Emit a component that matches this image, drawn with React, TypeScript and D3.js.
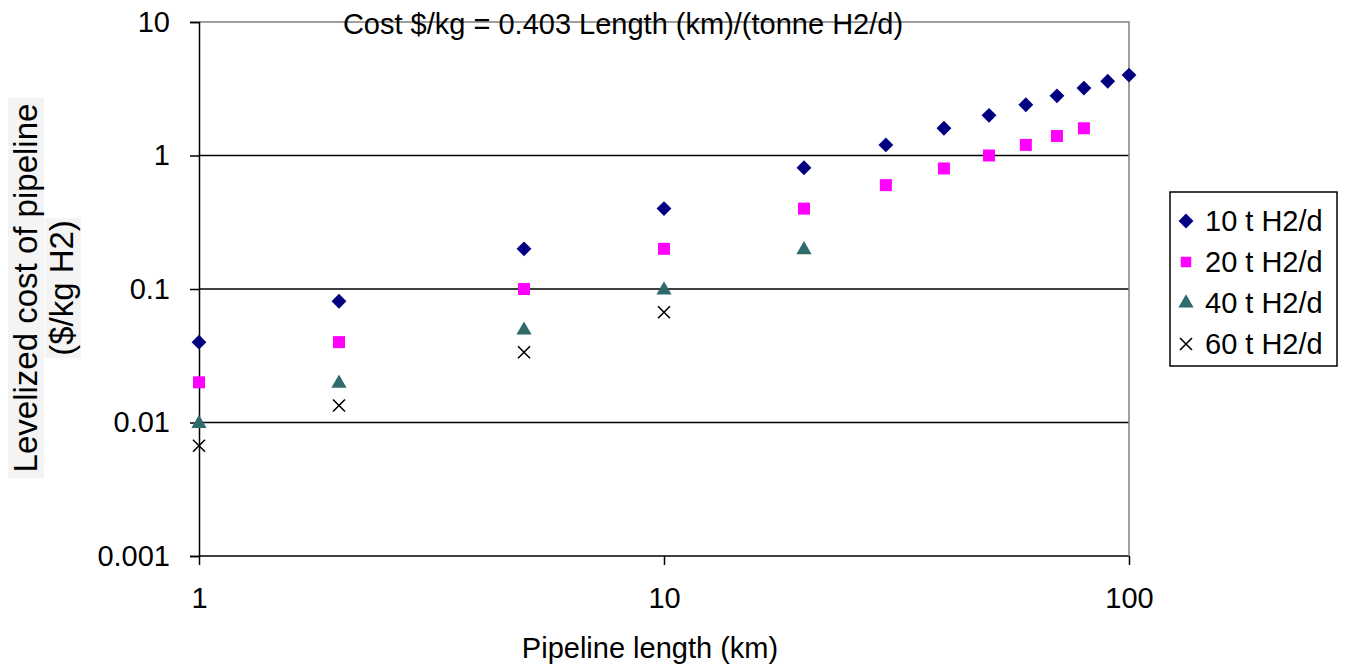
import React, { useEffect, useRef } from 'react';
import * as d3 from 'd3';

const lengths10 = [1, 2, 5, 10, 20, 30, 40, 50, 60, 70, 80, 90, 100];
const cost10 = [0.04, 0.081, 0.2, 0.4, 0.81, 1.2, 1.6, 2.0, 2.4, 2.8, 3.2, 3.6, 4.0];
const lengths20 = [1, 2, 5, 10, 20, 30, 40, 50, 60, 70, 80];
const cost20 = [0.02, 0.04, 0.1, 0.2, 0.4, 0.6, 0.8, 1.0, 1.2, 1.4, 1.6];
const lengths40 = [1, 2, 5, 10, 20];
const cost40 = [0.01, 0.02, 0.05, 0.1, 0.2];
const lengths60 = [1, 2, 5, 10];
const cost60 = [0.0067, 0.0134, 0.0336, 0.067];

const seriesNames = ['10 t H2/d', '20 t H2/d', '40 t H2/d', '60 t H2/d'];
const yTicks = [10, 1, 0.1, 0.01, 0.001];
const yTickLabels = ['10', '1', '0.1', '0.01', '0.001'];
const xTicks = [1, 10, 100];
const xTickLabels = ['1', '10', '100'];

const FONT = '"Liberation Sans", Arial, sans-serif';

const App = () => {
    const ref = useRef<SVGSVGElement | null>(null);

    useEffect(() => {
        document.body.style.margin = '0';
        const svg = d3.select(ref.current);
        svg.selectAll('*').remove();

        const left = 199, right = 1129, top = 22, bottom = 556;

        const x = d3.scaleLog().domain([1, 100]).range([left, right]);
        const y = d3.scaleLog().domain([0.001, 10]).range([bottom, top]);

        // gridlines
        svg.append('g')
            .selectAll('line')
            .data([1, 0.1, 0.01, 0.001])
            .join('line')
            .attr('x1', left).attr('x2', right)
            .attr('y1', d => y(d)).attr('y2', d => y(d))
            .attr('stroke', '#000').attr('stroke-width', 1.5);

        // top & right border (gray)
        svg.append('path')
            .attr('d', `M${left},${top}H${right}V${bottom}`)
            .attr('fill', 'none')
            .attr('stroke', '#808080')
            .attr('stroke-width', 1.5);

        // y axis
        const yAxis = svg.append('g')
            .attr('transform', `translate(${left},0)`)
            .call(d3.axisLeft(y).tickValues(yTicks).tickSize(9).tickPadding(20)
                .tickFormat((d, i) => yTickLabels[i]));
        yAxis.select('.domain').attr('stroke', '#000').attr('stroke-width', 1.5);
        yAxis.selectAll('line').attr('stroke', '#000').attr('stroke-width', 1.5);
        yAxis.selectAll('text')
            .attr('font-family', FONT).attr('font-size', 29).attr('fill', '#000');

        // x axis
        const xAxis = svg.append('g')
            .attr('transform', `translate(0,${bottom})`)
            .call(d3.axisBottom(x).tickValues(xTicks).tickSize(9).tickPadding(22)
                .tickFormat((d, i) => xTickLabels[i]));
        xAxis.select('.domain').remove();
        xAxis.selectAll('line').attr('stroke', '#000').attr('stroke-width', 1.5);
        xAxis.selectAll('text')
            .attr('font-family', FONT).attr('font-size', 29).attr('fill', '#000');

        // series
        const pts = (xs: number[], ys: number[]) => xs.map((v, i) => ({ x: v, y: ys[i] }));
        const diamond = d3.symbol().type(d3.symbolSquare).size(110)();
        const square = d3.symbol().type(d3.symbolSquare).size(144)();
        const tri = d3.symbol().type(d3.symbolTriangle).size(100)();
        const cross = 'M-6,-6L6,6M-6,6L6,-6';

        svg.append('g').selectAll('path')
            .data(pts(lengths10, cost10)).join('path')
            .attr('d', diamond)
            .attr('transform', d => `translate(${x(d.x)},${y(d.y)}) rotate(45)`)
            .attr('fill', '#000080');

        svg.append('g').selectAll('path')
            .data(pts(lengths20, cost20)).join('path')
            .attr('d', square)
            .attr('transform', d => `translate(${x(d.x)},${y(d.y)})`)
            .attr('fill', '#ff00ff');

        svg.append('g').selectAll('path')
            .data(pts(lengths40, cost40)).join('path')
            .attr('d', tri)
            .attr('transform', d => `translate(${x(d.x)},${y(d.y) + 1})`)
            .attr('fill', '#2f6b6b');

        svg.append('g').selectAll('path')
            .data(pts(lengths60, cost60)).join('path')
            .attr('d', cross)
            .attr('transform', d => `translate(${x(d.x)},${y(d.y)})`)
            .attr('stroke', '#000').attr('stroke-width', 1.6).attr('fill', 'none');

        // equation text
        svg.append('text')
            .attr('x', 623).attr('y', 34)
            .attr('text-anchor', 'middle')
            .attr('font-family', FONT).attr('font-size', 29)
            .text('Cost $/kg = 0.403 Length (km)/(tonne H2/d)');

        // x title
        svg.append('text')
            .attr('x', 650).attr('y', 658)
            .attr('text-anchor', 'middle')
            .attr('font-family', FONT).attr('font-size', 29)
            .text('Pipeline length (km)');

        // y title
        const yt = svg.append('g').attr('transform', 'translate(0,288) rotate(-90)');
        yt.append('rect').attr('x', -190).attr('y', 8).attr('width', 380).attr('height', 36).attr('fill', '#f4f4f4');
        yt.append('rect').attr('x', -70).attr('y', 45).attr('width', 140).attr('height', 36).attr('fill', '#f4f4f4');
        yt.append('text').attr('x', 0).attr('y', 37)
            .attr('text-anchor', 'middle')
            .attr('font-family', FONT).attr('font-size', 33).attr('fill', '#000')
            .text('Levelized cost of pipeline');
        yt.append('text').attr('x', 0).attr('y', 73)
            .attr('text-anchor', 'middle')
            .attr('font-family', FONT).attr('font-size', 33).attr('fill', '#000')
            .text('($/kg H2)');

        // legend
        const lg = svg.append('g');
        lg.append('rect')
            .attr('x', 1170).attr('y', 192).attr('width', 167).attr('height', 174)
            .attr('fill', '#fff').attr('stroke', '#000').attr('stroke-width', 1.5);
        const rowY = d3.scalePoint().domain(seriesNames).range([221, 344]);
        const markers = [
            { d: diamond, rot: 45, fill: '#000080', stroke: 'none' },
            { d: d3.symbol().type(d3.symbolSquare).size(110)(), rot: 0, fill: '#ff00ff', stroke: 'none' },
            { d: tri, rot: 0, fill: '#2f6b6b', stroke: 'none' },
            { d: cross, rot: 0, fill: 'none', stroke: '#000' },
        ];
        seriesNames.forEach((name, i) => {
            const cy = rowY(name) as number;
            lg.append('path')
                .attr('d', markers[i].d)
                .attr('transform', `translate(1186,${cy}) rotate(${markers[i].rot})`)
                .attr('fill', markers[i].fill)
                .attr('stroke', markers[i].stroke)
                .attr('stroke-width', 1.6);
            lg.append('text')
                .attr('x', 1205).attr('y', cy + 10)
                .attr('font-family', FONT).attr('font-size', 29)
                .text(name);
        });
    }, []);

    return <svg ref={ref} width={1364} height={667} style={{ display: 'block', background: '#fff' }} />;
};

export default App;
